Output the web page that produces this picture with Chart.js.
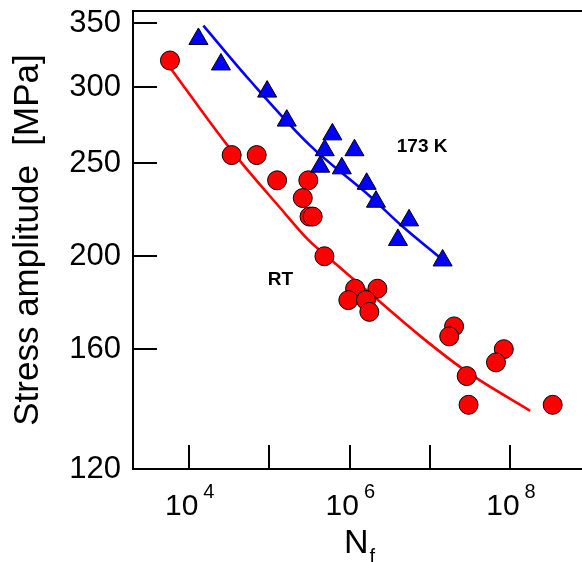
<!DOCTYPE html>
<html><head><meta charset="utf-8">
<script src="https://cdn.jsdelivr.net/npm/chart.js@4.4.0/dist/chart.umd.min.js"></script>
<style>html,body{margin:0;padding:0;background:#fff;overflow:hidden}</style>
</head><body>
<canvas id="c" width="582" height="562" style="display:block;width:582px;height:562px"></canvas>
<script>
// ---- data ----
const rtCycles  = [5.79e3, 3.40e4, 6.97e4, 1.25e5, 3.06e5, 2.61e5, 3.17e5, 3.47e5, 4.86e5, 1.17e6, 2.22e6, 9.64e5, 1.60e6, 1.76e6, 2.0e7, 1.74e7, 8.32e7, 6.65e7, 2.87e7, 3.03e7, 3.38e8];
const rtStress  = [320, 255, 255, 240, 240, 230, 220, 220, 200, 185, 185, 180, 180, 175, 169, 165, 160, 155, 150, 140, 140];
const lowCycles = [1.31e4, 2.5e4, 9.4e4, 1.65e5, 6.1e5, 4.9e5, 1.15e6, 4.3e5, 8.0e5, 1.63e6, 2.13e6, 5.5e6, 4.0e6, 1.44e7];
const lowStress = [337, 317, 297, 277, 268, 258, 258, 248, 247, 238, 228, 218, 208, 198];
const rtFitCycles  = [5.92e3, 3.24e4, 1.36e5, 3.06e5, 4.95e5, 1.35e6, 7.53e6, 2.87e7, 1.77e8];
const rtFitStress  = [314, 259, 224.7, 208, 200.7, 186.8, 165.2, 151.6, 138];
const lowFitCycles = [1.51e4, 5.75e4, 3.21e5, 1.79e6, 4.24e6, 1.47e7];
const lowFitStress = [348, 305, 261, 231, 216, 198];
const yTickValues = [120, 160, 200, 250, 300, 350];
const xTickExponents = [4, 5, 6, 7, 8];
const xLabelExponents = [4, 6, 8];
const yTitle = 'Stress amplitude  [MPa]';
const xTitleMain = 'N';
const xTitleSub = 'f';
const annotationTexts = ['173 K', 'RT'];
const annotationCycles = [8.0e6, 1.38e5];
const annotationStress = [260, 189];

const FONT = '"Liberation Sans", Arial, Helvetica, sans-serif';
const pts = (xs, ys) => xs.map((x, i) => ({x, y: ys[i]}));

const decor = {
  id: 'decor',
  afterDraw(chart) {
    const {ctx, chartArea: a, scales} = chart;
    const xs = scales.x, ys = scales.y;
    ctx.save();
    ctx.strokeStyle = '#000';
    ctx.lineWidth = 2;
    // top frame line
    ctx.beginPath();
    ctx.moveTo(a.left - 1, a.top); ctx.lineTo(a.right, a.top);
    ctx.stroke();
    // inward ticks
    ctx.beginPath();
    yTickValues.forEach(v => {
      const p = Math.round(ys.getPixelForValue(v));
      ctx.moveTo(a.left, p); ctx.lineTo(a.left + 24, p);
    });
    xTickExponents.forEach(e => {
      const p = Math.round(xs.getPixelForValue(Math.pow(10, e)));
      ctx.moveTo(p, a.bottom); ctx.lineTo(p, a.bottom - 24);
    });
    ctx.stroke();
    // x tick labels with exponents
    ctx.fillStyle = '#000';
    ctx.textBaseline = 'alphabetic';
    ctx.textAlign = 'left';
    xLabelExponents.forEach(e => {
      const p = xs.getPixelForValue(Math.pow(10, e));
      const start = p - 24;
      ctx.font = '30px ' + FONT;
      ctx.fillText('10', start, a.bottom + 46);
      const w = ctx.measureText('10').width;
      ctx.font = '20px ' + FONT;
      ctx.fillText(String(e), start + w + 5, a.bottom + 29);
    });
    // x title N_f
    const cx = (a.left + a.right) / 2;
    ctx.font = '34px ' + FONT;
    const nl = cx - 13.5;
    ctx.fillText(xTitleMain, nl, a.bottom + 84);
    const nw = ctx.measureText(xTitleMain).width;
    ctx.font = '20px ' + FONT;
    ctx.fillText(xTitleSub, nl + nw + 1, a.bottom + 94);
    // annotations
    ctx.font = 'bold 19px ' + FONT;
    ctx.textAlign = 'center';
    ctx.textBaseline = 'middle';
    annotationTexts.forEach((t, i) => {
      ctx.fillText(t, xs.getPixelForValue(annotationCycles[i]), ys.getPixelForValue(annotationStress[i]));
    });
    ctx.restore();
  }
};

new Chart(document.getElementById('c'), {
  type: 'scatter',
  data: {
    datasets: [
      {label: 'RT fit', data: pts(rtFitCycles, rtFitStress), showLine: true, pointRadius: 0,
       borderColor: '#ff0000', borderWidth: 2.6, cubicInterpolationMode: 'monotone', order: 2},
      {label: '173 K fit', data: pts(lowFitCycles, lowFitStress), showLine: true, pointRadius: 0,
       borderColor: '#0000ff', borderWidth: 2.6, cubicInterpolationMode: 'monotone', order: 2},
      {label: 'RT', data: pts(rtCycles, rtStress), pointStyle: 'circle', pointRadius: 9.5,
       backgroundColor: '#ff0000', borderColor: '#000', borderWidth: 1, order: 1},
      {label: '173 K', data: pts(lowCycles, lowStress), pointStyle: 'triangle', pointRadius: 11,
       backgroundColor: '#0000ff', borderColor: '#000', borderWidth: 1, order: 0}
    ]
  },
  options: {
    responsive: false,
    animation: false,
    devicePixelRatio: 1,
    layout: {autoPadding: false, padding: {top: 11, right: 0, bottom: 0, left: 0}},
    plugins: {legend: {display: false}, tooltip: {enabled: false}},
    scales: {
      x: {
        type: 'logarithmic',
        min: Math.pow(10, 3.3026), max: Math.pow(10, 8.894),
        ticks: {display: false},
        grid: {display: false, drawTicks: false},
        border: {display: true, color: '#000', width: 2},
        afterFit(s) { s.height = 93; s.paddingLeft = 0; s.paddingRight = 0; }
      },
      y: {
        type: 'logarithmic',
        min: 120, max: 360.4,
        afterBuildTicks(s) { s.ticks = yTickValues.map(v => ({value: v})); },
        ticks: {font: {size: 31, family: FONT}, color: '#000', padding: 12,
                callback: v => String(v)},
        grid: {display: false, drawTicks: false},
        border: {display: true, color: '#000', width: 2},
        title: {display: true, text: yTitle, color: '#000', font: {size: 35, family: FONT},
                padding: {top: 7, bottom: 0}},
        afterFit(s) { s.width = 133; s.paddingTop = 0; s.paddingBottom = 0; }
      }
    }
  },
  plugins: [decor]
});
</script>
</body></html>
